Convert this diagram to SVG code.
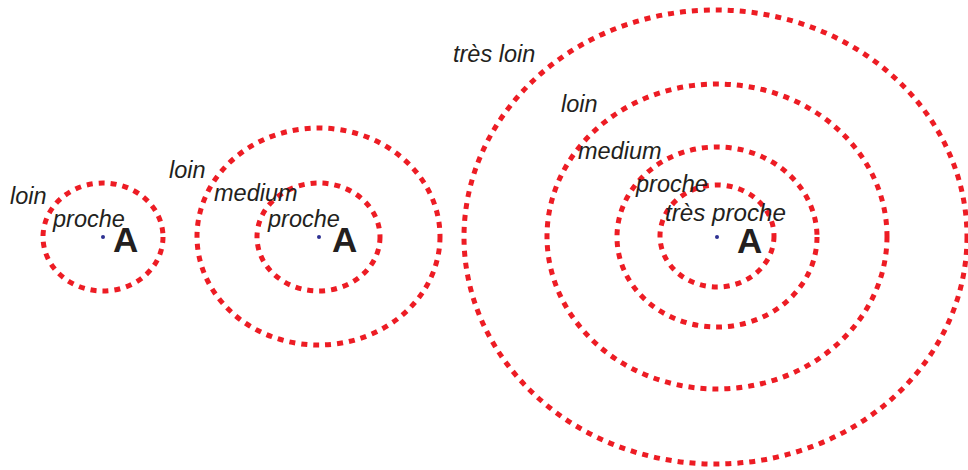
<svg xmlns="http://www.w3.org/2000/svg" width="968" height="470" viewBox="0 0 968 470">
<style>
.ring{fill:none;stroke:#ed1c24;stroke-width:5;stroke-dasharray:6 6}
.lbl{font-family:"Liberation Sans",Arial,sans-serif;font-style:italic;font-size:23.5px;fill:#231f20}
.a{font-family:"Liberation Sans",Arial,sans-serif;font-weight:bold;font-size:35px;fill:#231f20}
.dot{fill:#2e3192}
</style>
<rect width="968" height="470" fill="#ffffff"/>
<g id="group-left">
<ellipse class="ring" cx="103" cy="237" rx="60" ry="54"/>
<circle class="dot" cx="103" cy="237" r="2"/>
<text class="lbl" x="10" y="204">loin</text>
<text class="lbl" x="53" y="227">proche</text>
<text class="a" x="113" y="252">A</text>
</g>
<g id="group-middle">
<ellipse class="ring" cx="318.5" cy="236.5" rx="121.5" ry="108.5"/>
<ellipse class="ring" cx="318.5" cy="237" rx="61.5" ry="54"/>
<circle class="dot" cx="319" cy="237" r="2"/>
<text class="lbl" x="169" y="178">loin</text>
<text class="lbl" x="214" y="201">medium</text>
<text class="lbl" x="268" y="227">proche</text>
<text class="a" x="332" y="252">A</text>
</g>
<g id="group-right">
<ellipse class="ring" cx="715.5" cy="237" rx="251.5" ry="227"/>
<ellipse class="ring" cx="717" cy="236.5" rx="170" ry="152.5"/>
<ellipse class="ring" cx="717" cy="237" rx="100" ry="90"/>
<ellipse class="ring" cx="717" cy="236" rx="57" ry="51"/>
<circle class="dot" cx="717" cy="237" r="2"/>
<text class="lbl" x="453" y="62">très loin</text>
<text class="lbl" x="561" y="112">loin</text>
<text class="lbl" x="578" y="159">medium</text>
<text class="lbl" x="636" y="192">proche</text>
<text class="lbl" x="665" y="221" textLength="121" lengthAdjust="spacingAndGlyphs">très proche</text>
<text class="a" x="737" y="253">A</text>
</g>
</svg>
